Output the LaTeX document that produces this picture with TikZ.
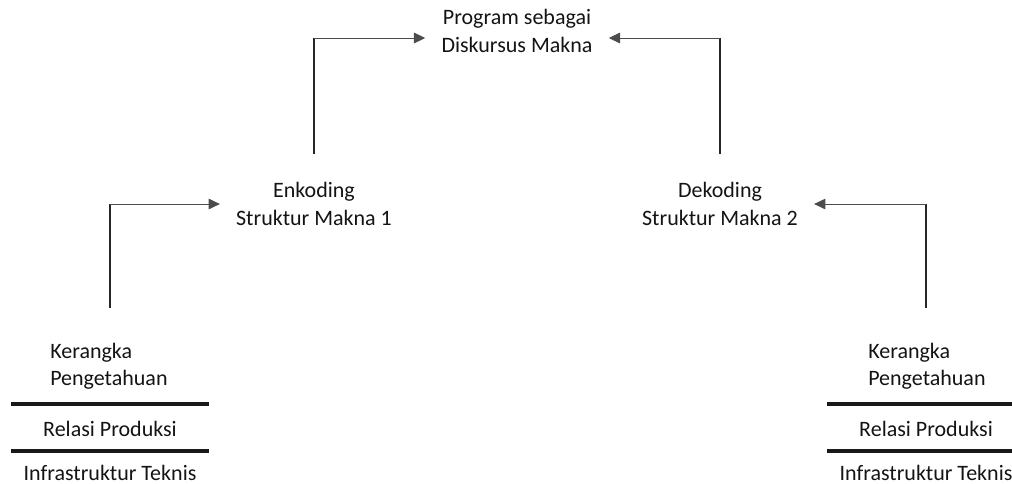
\documentclass[tikz,border=0pt]{standalone}
\usepackage{fontspec}
\setmainfont{Carlito}
\usetikzlibrary{arrows.meta}
\begin{document}
\begin{tikzpicture}[x=0.75pt, y=-0.75pt, >={Triangle[length=8.5pt, width=8pt]},
		txt/.style={font=\fontsize{16.5}{20.5}\selectfont, text=black!92, align=center, inner xsep=12pt, inner ysep=0pt},
		vline/.style={line width=1.5pt, black!85},
		hline/.style={line width=0.75pt, black!70},
		bar/.style={line width=2.4pt, black!90}]
	\useasboundingbox (0,0) rectangle (1012,483);
	\node[txt] (prog) at (517,31) {Program sebagai\\Diskursus Makna};
	\node[txt] (enc) at (314,204) {Enkoding\\Struktur Makna 1};
	\node[txt] (dec) at (720,204) {Dekoding\\Struktur Makna 2};
	\foreach \s / \x / \k in {l/110/50, r/926/868} {
		\node[txt, align=left, anchor=west, inner xsep=0pt] (ker\s) at (\k, 366) {Kerangka\\Pengetahuan};
		\draw[bar] (\x-99, 404) -- (\x+99, 404);
		\node[txt] (rel\s) at (\x, 429) {Relasi Produksi};
		\draw[bar] (\x-99, 451) -- (\x+99, 451);
		\node[txt] (inf\s) at (\x, 473) {Infrastruktur Teknis};
	}
	\coordinate (top) at (517,38);
	% ke atas
	\draw[vline, shorten <=21pt] (enc.north) -- (enc.north |- top);
	\draw[hline, ->] (enc.north |- top) -- (prog.west |- top);
	\draw[vline, shorten <=21pt] (dec.north) -- (dec.north |- top);
	\draw[hline, ->] (dec.north |- top) -- (prog.east |- top);
	% dari bawah
	\draw[vline, shorten <=26pt] (kerl.north -| rell) -- (rell |- enc.west);
	\draw[hline, ->] (rell |- enc.west) -- (enc.west);
	\draw[vline, shorten <=26pt] (kerr.north -| relr) -- (relr |- dec.east);
	\draw[hline, ->] (relr |- dec.east) -- (dec.east);
\end{tikzpicture}
\end{document}
